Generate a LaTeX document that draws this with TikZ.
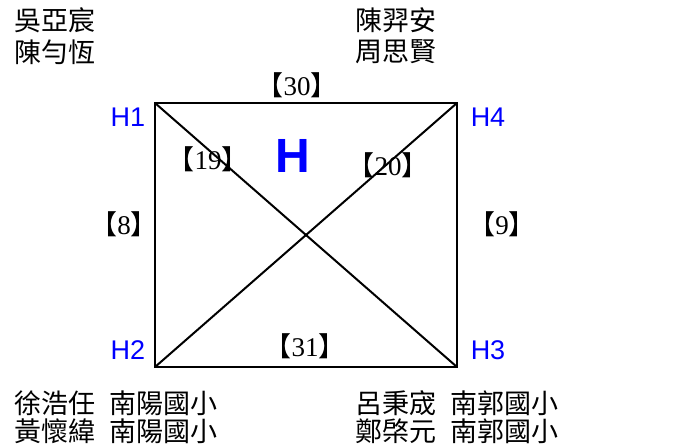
\documentclass[tikz,border=0pt]{standalone}
\usepackage{fontspec}
\setmainfont{Liberation Serif}
\newfontfamily\cjk{Noto Sans CJK TC}
\newfontfamily\brk{Noto Sans CJK JP}
\newfontfamily\arialf{Liberation Sans}
\newcommand\lbl[1]{{\brk 【}#1{\brk 】}}
\begin{document}
\begin{tikzpicture}[x=1pt,y=-1pt,
  edge/.style={line width=2pt,black},
  hlabel/.style={text=blue,font=\arialf\fontsize{27}{30}\selectfont,inner sep=0pt},
  wlabel/.style={font=\fontsize{27}{30}\selectfont,inner sep=0pt},
  names/.style={anchor=west,font=\cjk\fontsize{27}{32}\selectfont,inner sep=0pt,align=left}]
\useasboundingbox (0,0) rectangle (676,445);
\coordinate (H1) at (155,103);
\coordinate (H4) at (457,103);
\coordinate (H2) at (155,367);
\coordinate (H3) at (457,367);
\draw[edge] (H1) -- (H4) -- (H3) -- (H2) -- cycle;
\draw[edge] (H1) -- (H3);
\draw[edge] (H2) -- (H4);
\node[hlabel] (t1) at (128,117) {H1};
\node[hlabel] (t4) at (488,117) {H4};
\node[hlabel] (t2) at (128,350) {H2};
\node[hlabel] (t3) at (488,350) {H3};
\node[text=blue,font=\arialf\bfseries\fontsize{48}{52}\selectfont,inner sep=0pt] (hh) at (293,156) {H};
\node[wlabel] (w30) at (297,85) {\lbl{30}};
\node[wlabel] (w19) at (208,159) {\lbl{19}};
\node[wlabel] (w20) at (388,165) {\lbl{20}};
\node[wlabel] (w8) at (124,224) {\lbl{8}};
\node[wlabel] (w9) at (502,224) {\lbl{9}};
\node[wlabel] (w31) at (305,346) {\lbl{31}};
\node[names] (n1) at (14,20) {吳亞宸};
\node[names] (n2) at (14,52) {陳勻恆};
\node[names] (n3) at (355,20) {陳羿安};
\node[names] (n4) at (355,52) {周思賢};
\node[names] (n5) at (14,403) {徐浩任\hspace{14pt}南陽國小};
\node[names] (n6) at (14,431) {黃懷緯\hspace{14pt}南陽國小};
\node[names] (n7) at (355,403) {呂秉宬\hspace{14pt}南郭國小};
\node[names] (n8) at (355,431) {鄭棨元\hspace{14pt}南郭國小};
\end{tikzpicture}
\end{document}
